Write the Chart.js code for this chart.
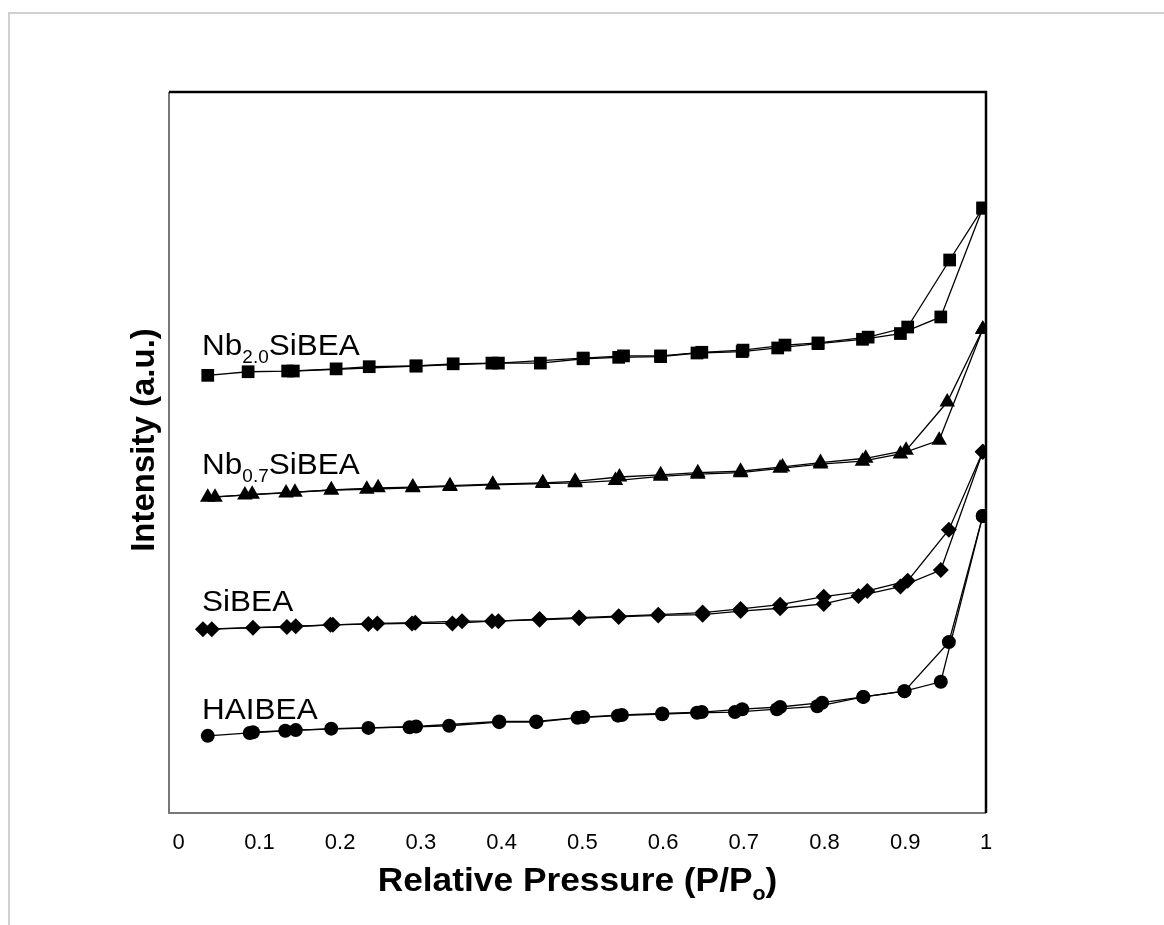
<!DOCTYPE html>
<html>
<head>
<meta charset="utf-8">
<script src="https://cdn.jsdelivr.net/npm/chart.js@4.4.1/dist/chart.umd.min.js"></script>
<style>
  html, body { margin: 0; padding: 0; background: #fff; }
  #wrap { position: relative; width: 1164px; height: 925px; }
</style>
</head>
<body>
<div id="wrap"><canvas id="iso" width="1164" height="925"></canvas></div>
<script>
/* ── DATA (y in arbitrary units 0–100) ─────────────────────────────── */
const xTicks = [0, 0.1, 0.2, 0.3, 0.4, 0.5, 0.6, 0.7, 0.8, 0.9, 1];

// HAIBEA – circles
const haAdsX = [0.036, 0.088, 0.132, 0.189, 0.235, 0.286, 0.335, 0.397, 0.443, 0.494, 0.544, 0.599, 0.642, 0.689, 0.741, 0.791, 0.848, 0.899, 0.944, 0.996];
const haAdsY = [10.7, 11.1, 11.4, 11.7, 11.8, 11.9, 12.1, 12.6, 12.6, 13.2, 13.5, 13.7, 13.9, 14.0, 14.4, 14.8, 16.1, 16.9, 18.2, 41.2];
const haDesX = [0.996, 0.954, 0.899, 0.848, 0.797, 0.745, 0.698, 0.648, 0.599, 0.549, 0.501, 0.443, 0.397, 0.294, 0.145, 0.092];
const haDesY = [41.2, 23.7, 16.9, 16.1, 15.3, 14.7, 14.4, 14.0, 13.8, 13.6, 13.3, 12.7, 12.7, 12.0, 11.5, 11.2];

// SiBEA – diamonds
const siAdsX = [0.030, 0.092, 0.134, 0.188, 0.235, 0.289, 0.339, 0.388, 0.447, 0.496, 0.545, 0.594, 0.649, 0.696, 0.745, 0.799, 0.842, 0.894, 0.944, 0.996];
const siAdsY = [25.5, 25.7, 25.8, 26.1, 26.2, 26.3, 26.3, 26.6, 26.8, 27.0, 27.2, 27.4, 27.5, 28.0, 28.4, 29.0, 30.1, 31.4, 33.7, 50.1];
const siDesX = [0.996, 0.954, 0.903, 0.853, 0.799, 0.745, 0.696, 0.649, 0.594, 0.545, 0.496, 0.447, 0.396, 0.351, 0.293, 0.246, 0.191, 0.145, 0.041];
const siDesY = [50.1, 39.3, 32.2, 30.8, 30.0, 28.9, 28.3, 27.8, 27.5, 27.3, 27.1, 26.9, 26.6, 26.6, 26.4, 26.3, 26.1, 25.9, 25.5];

// Nb0.7SiBEA – triangles
const n07AdsX = [0.036, 0.082, 0.133, 0.189, 0.233, 0.290, 0.336, 0.389, 0.451, 0.491, 0.541, 0.597, 0.643, 0.696, 0.745, 0.795, 0.847, 0.894, 0.942, 0.996];
const n07AdsY = [43.8, 44.1, 44.4, 44.8, 44.9, 45.1, 45.3, 45.5, 45.7, 45.8, 46.1, 46.7, 47.0, 47.2, 47.8, 48.4, 48.8, 49.8, 51.7, 67.1];
const n07DesX = [0.996, 0.952, 0.901, 0.851, 0.795, 0.748, 0.696, 0.643, 0.597, 0.546, 0.491, 0.451, 0.389, 0.336, 0.290, 0.247, 0.189, 0.144, 0.091, 0.045];
const n07DesY = [67.1, 57.0, 50.3, 49.2, 48.6, 48.0, 47.4, 47.2, 46.9, 46.6, 46.0, 45.8, 45.6, 45.4, 45.2, 45.1, 44.8, 44.5, 44.2, 43.8];

// Nb2.0SiBEA – squares
const n20AdsX = [0.036, 0.086, 0.135, 0.195, 0.236, 0.294, 0.340, 0.388, 0.448, 0.501, 0.545, 0.597, 0.642, 0.698, 0.742, 0.792, 0.847, 0.894, 0.944, 0.996];
const n20AdsY = [60.7, 61.2, 61.3, 61.6, 61.9, 62.0, 62.3, 62.4, 62.4, 63.0, 63.2, 63.3, 63.8, 64.0, 64.5, 65.1, 65.7, 66.5, 68.8, 83.9];
const n20DesX = [0.996, 0.955, 0.903, 0.854, 0.792, 0.751, 0.699, 0.648, 0.597, 0.551, 0.501, 0.396, 0.294, 0.142];
const n20DesY = [83.9, 76.7, 67.4, 66.0, 65.2, 64.9, 64.2, 63.9, 63.4, 63.4, 63.1, 62.4, 62.0, 61.3];

// series labels, anchored at (x, baseline y) in data units
const labelX = [0.029, 0.029, 0.029, 0.029];
const labelY = [63.5, 47.0, 28.0, 13.0];
const labelText = [
  [['Nb'], ['2.0', 1], ['SiBEA']],
  [['Nb'], ['0.7', 1], ['SiBEA']],
  [['SiBEA']],
  [['HAIBEA']],
];

/* ── HELPERS ───────────────────────────────────────────────────────── */
const FONT = 'Arial, "Liberation Sans", Helvetica, sans-serif';
const pts = (xs, ys) => xs.map((x, i) => ({ x, y: ys[i] }));

// text with optional subscript runs, stretched horizontally by sx
function drawRich(ctx, x, y, segs, size, bold, align, sx) {
  const w = bold ? 'bold ' : '';
  const subSize = Math.round(size * 0.6);
  let total = 0;
  segs.forEach(([t, sub]) => {
    ctx.font = `${w}${sub ? subSize : size}px ${FONT}`;
    total += ctx.measureText(t).width;
  });
  ctx.save();
  ctx.translate(x, y);
  ctx.scale(sx, 1);
  let cx = align === 'center' ? -total / 2 : 0;
  ctx.textBaseline = 'alphabetic';
  ctx.textAlign = 'left';
  segs.forEach(([t, sub]) => {
    ctx.font = `${w}${sub ? subSize : size}px ${FONT}`;
    ctx.fillText(t, cx, sub ? size * 0.27 : 0);
    cx += ctx.measureText(t).width;
  });
  ctx.restore();
}

function series(xs, ys, style, r) {
  return {
    data: pts(xs, ys),
    showLine: true,
    borderColor: '#000',
    borderWidth: 1.3,
    pointStyle: style,
    pointRadius: r,
    pointBackgroundColor: '#000',
    pointBorderColor: '#000',
    pointBorderWidth: 0,
    tension: 0,
  };
}

/* ── FRAME / LABEL PLUGIN ──────────────────────────────────────────── */
const decor = {
  id: 'decor',
  beforeDraw(chart) {
    const ctx = chart.ctx;
    ctx.save();
    ctx.strokeStyle = '#d0d0d0';
    ctx.lineWidth = 2;
    ctx.beginPath();
    ctx.moveTo(9, 925); ctx.lineTo(9, 13); ctx.lineTo(1164, 13);
    ctx.stroke();
    ctx.restore();
  },
  afterDraw(chart) {
    const { ctx, chartArea: a, scales: { x, y } } = chart;
    ctx.save();
    // plot border
    ctx.lineWidth = 2;
    ctx.strokeStyle = '#777';
    ctx.beginPath();
    ctx.moveTo(a.left, a.top); ctx.lineTo(a.left, a.bottom); ctx.lineTo(a.right, a.bottom);
    ctx.stroke();
    ctx.strokeStyle = '#000';
    ctx.lineWidth = 2.5;
    ctx.beginPath();
    ctx.moveTo(a.left, a.top); ctx.lineTo(a.right, a.top); ctx.lineTo(a.right, a.bottom);
    ctx.stroke();

    // series labels
    ctx.fillStyle = '#000';
    labelText.forEach((segs, i) => {
      drawRich(ctx, x.getPixelForValue(labelX[i]), y.getPixelForValue(labelY[i]), segs, 30, false, 'left', 1.05);
    });

    // x title
    drawRich(ctx, (a.left + a.right) / 2, 891,
      [['Relative Pressure (P/P'], ['o', 1], [')']], 33, true, 'center', 1.07);

    // y title
    ctx.translate(154, 440);
    ctx.rotate(-Math.PI / 2);
    ctx.font = `bold 33px ${FONT}`;
    ctx.textAlign = 'center';
    ctx.textBaseline = 'alphabetic';
    ctx.fillText('Intensity (a.u.)', 0, 0);
    ctx.restore();
  },
};

/* ── CHART ─────────────────────────────────────────────────────────── */
new Chart(document.getElementById('iso'), {
  type: 'scatter',
  data: {
    datasets: [
      series(haAdsX, haAdsY, 'circle', 7),
      series(haDesX, haDesY, 'circle', 7),
      series(siAdsX, siAdsY, 'rectRot', 8),
      series(siDesX, siDesY, 'rectRot', 8),
      series(n07AdsX, n07AdsY, 'triangle', 9),
      series(n07DesX, n07DesY, 'triangle', 9),
      series(n20AdsX, n20AdsY, 'rect', 9),
      series(n20DesX, n20DesY, 'rect', 9),
    ],
  },
  options: {
    responsive: false,
    animation: false,
    devicePixelRatio: 1,
    layout: { padding: { left: 0, top: 92, right: 178, bottom: 0 } },
    plugins: { legend: { display: false }, tooltip: { enabled: false } },
    scales: {
      x: {
        type: 'linear', min: -0.012, max: 1,
        afterBuildTicks: s => { s.ticks = xTicks.map(v => ({ value: v })); },
        afterFit: s => { s.height = 112; },
        grid: { display: false, drawTicks: false },
        border: { display: false },
        ticks: {
          padding: 17, color: '#000', maxRotation: 0, autoSkip: false,
          font: { family: FONT, size: 22 },
          callback: v => String(Math.round(v * 10) / 10),
        },
      },
      y: {
        type: 'linear', min: 0, max: 100,
        afterFit: s => { s.width = 169; },
        grid: { display: false, drawTicks: false },
        border: { display: false },
        ticks: { display: false },
      },
    },
  },
  plugins: [decor],
});
</script>
</body>
</html>
